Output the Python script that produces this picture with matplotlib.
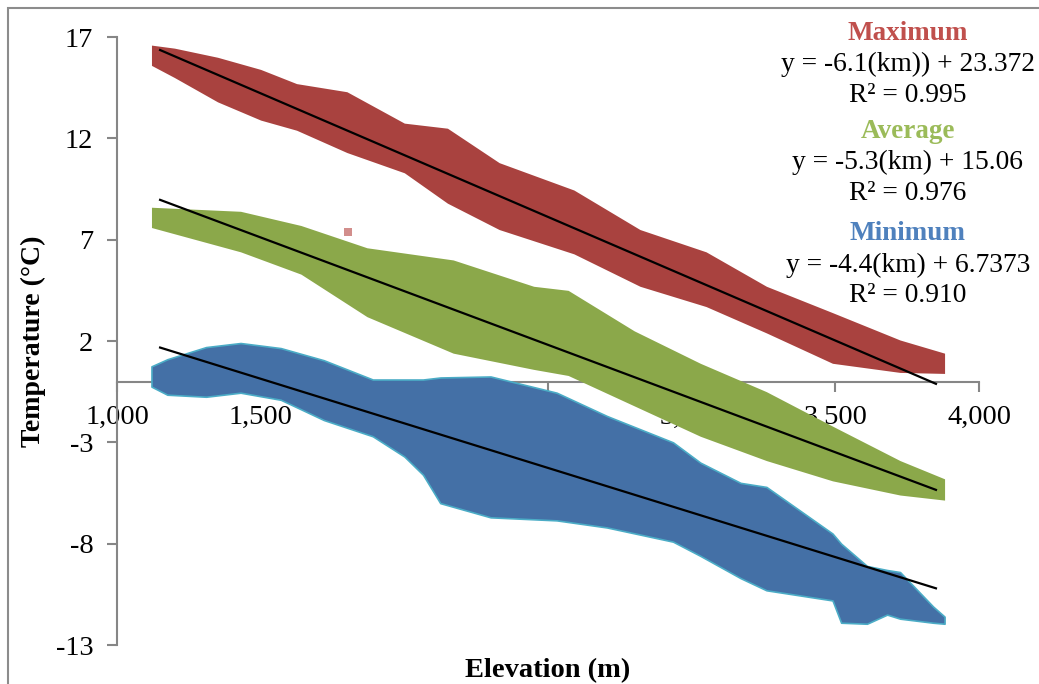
import matplotlib
matplotlib.use("Agg")
import matplotlib.pyplot as plt
from matplotlib.patches import Rectangle
from matplotlib.ticker import FuncFormatter

# outline of each point cloud (elevation m, temperature C)
max_elev = [1120, 1200, 1350, 1500, 1625, 1800, 2000, 2150, 2330, 2590, 2820, 3050, 3260, 3490, 3725, 3880]
max_top = [16.6, 16.45, 16.0, 15.4, 14.7, 14.3, 12.75, 12.5, 10.8, 9.45, 7.5, 6.4, 4.7, 3.4, 2.05, 1.4]
max_bot = [15.6, 15.0, 13.8, 12.9, 12.4, 11.3, 10.3, 8.8, 7.5, 6.3, 4.7, 3.7, 2.4, 0.9, 0.45, 0.4]

avg_elev = [1120, 1430, 1640, 1870, 2170, 2450, 2570, 2800, 3030, 3260, 3490, 3725, 3880]
avg_top = [8.6, 8.4, 7.7, 6.6, 6.0, 4.7, 4.5, 2.5, 0.9, -0.5, -2.2, -3.9, -4.8]
avg_bot = [7.6, 6.4, 5.3, 3.2, 1.4, 0.6, 0.3, -1.2, -2.7, -3.9, -4.9, -5.6, -5.85]

min_elev = [1120, 1175, 1310, 1430, 1570, 1720, 1890, 2000, 2065, 2125, 2300, 2530, 2705, 2935,
            3030, 3170, 3260, 3490, 3520, 3610, 3680, 3725, 3840, 3880]
min_top = [0.75, 1.1, 1.7, 1.9, 1.65, 1.05, 0.1, 0.1, 0.1, 0.2, 0.25, -0.55, -1.7, -3.0,
           -4.0, -5.0, -5.2, -7.5, -8.0, -9.1, -9.3, -9.4, -11.1, -11.6]
min_bot = [-0.25, -0.65, -0.75, -0.55, -0.9, -1.9, -2.7, -3.7, -4.6, -6.0, -6.7, -6.85, -7.2, -7.9,
           -8.6, -9.7, -10.3, -10.8, -11.9, -11.95, -11.5, -11.7, -11.9, -11.95]

# stray maximum point
stray_elev = [1804]
stray_temp = [7.38]

# linear fits (slope per km, intercept) and fitted elevation range
fit_names = ["Maximum", "Average", "Minimum"]
fit_slope = [-6.1, -5.3, -4.4]
fit_icpt = [23.372, 15.06, 6.7373]
fit_range = [1150, 3850]
fit_eqs = ["y = -6.1(km)) + 23.372", "y = -5.3(km) + 15.06", "y = -4.4(km) + 6.7373"]
fit_r2 = ["R\u00b2 = 0.995", "R\u00b2 = 0.976", "R\u00b2 = 0.910"]
title_cols = ["#C0504D", "#9BBB59", "#4F81BD"]

yticks = [17, 12, 7, 2, -3, -8, -13]
xticks = [1000, 1500, 2000, 2500, 3000, 3500, 4000]

plt.rcParams['font.family'] = ['Liberation Serif', 'DejaVu Serif']
plt.rcParams['axes.unicode_minus'] = False

fig = plt.figure(figsize=(10.39, 6.84), dpi=100)
ax = fig.add_axes([0.1126, 0.0570, 0.8297, 0.8889])

# bands
ax.fill_between(max_elev, max_bot, max_top, color="#A9423F", lw=0, zorder=2)
ax.scatter(stray_elev, stray_temp, marker="s", s=40, color="#D28E8C", lw=0, zorder=2)
ax.fill_between(avg_elev, avg_bot, avg_top, color="#8BA84A", lw=0, zorder=3)
ax.fill_between(min_elev, min_bot, min_top, color="#4470A6", edgecolor="#4BACC6", lw=1.2, zorder=3)

# trend lines
for sl, b in zip(fit_slope, fit_icpt):
    ys = [sl * x / 1000 + b for x in fit_range]
    ax.plot(fit_range, ys, color="black", lw=1.6, zorder=5)

ax.set_xlim(1000, 4000)
ax.set_ylim(-13, 17)
ax.set_xticks(xticks)
ax.set_yticks(yticks)
ax.xaxis.set_major_formatter(FuncFormatter(lambda v, p: f"{int(v):,}"))

for s in ["top", "right"]:
    ax.spines[s].set_visible(False)
ax.spines["bottom"].set_position(("data", 0))
for s in ["left", "bottom"]:
    ax.spines[s].set_color("#868686")
    ax.spines[s].set_linewidth(1.5)
ax.tick_params(axis="both", direction="out", length=7, width=1.5, color="#868686",
               labelsize=20.5, pad=10)

ax.set_xlabel("Elevation (m)", fontsize=20.5, fontweight="bold")
ax.xaxis.set_label_coords(0.5, -0.022)
ax.set_ylabel("Temperature (\u00b0C)", fontsize=20, fontweight="bold")
ax.yaxis.set_label_coords(-0.082, 0.5)

# fit annotations in top right
y0 = [33, 131, 234]
for i in range(3):
    fig.text(908 / 1039, 1 - y0[i] / 684, fit_names[i], color=title_cols[i], fontsize=19.5,
             fontweight="bold", ha="center", va="center")
    fig.text(908 / 1039, 1 - (y0[i] + 31) / 684, fit_eqs[i], fontsize=19.8, ha="center", va="center")
    fig.text(908 / 1039, 1 - (y0[i] + 62) / 684, fit_r2[i], fontsize=19.8, ha="center", va="center")

# chart area border (only the top and left edges are inside the picture)
fig.patches.append(Rectangle((8 / 1039, -0.05), 1.1, 1 - 8 / 684 + 0.05, transform=fig.transFigure,
                             fill=False, edgecolor="#8C8C8C", lw=1.5))

fig.savefig("out.png", dpi=100)
